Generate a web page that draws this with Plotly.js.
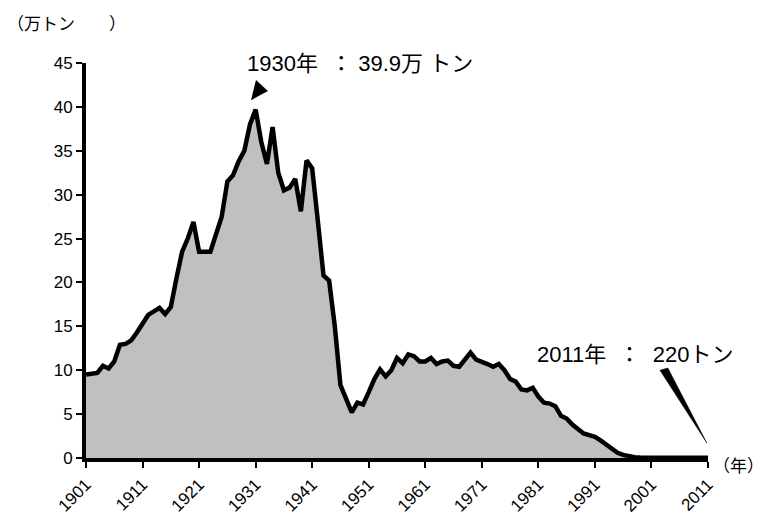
<!DOCTYPE html>
<html><head><meta charset="utf-8">
<script src="https://cdn.plot.ly/plotly-3.0.1.min.js"></script>
<style>html,body{margin:0;padding:0;background:#fff}#chart{width:769px;height:519px}</style>
</head><body><div id="chart"></div>
<script>
const years = Array.from({length: 111}, (_, i) => 1901 + i);
const production = [
  9.5, 9.6, 9.7, 10.5, 10.2, 11.0, 12.9, 13.0, 13.4, 14.3,
  15.3, 16.3, 16.7, 17.1, 16.4, 17.2, 20.5, 23.5, 25.0, 26.9,
  23.5, 23.5, 23.5, 25.5, 27.5, 31.5, 32.2, 33.8, 35.0, 38.0,
  39.7, 36.0, 33.5, 37.7, 32.5, 30.5, 30.8, 31.8, 28.1, 33.9,
  33.0, 27.0, 20.8, 20.2, 15.0, 8.3, 6.8, 5.2, 6.3, 6.1,
  7.5, 9.0, 10.1, 9.3, 10.0, 11.4, 10.8, 11.8, 11.6, 11.0,
  11.0, 11.4, 10.7, 11.0, 11.1, 10.5, 10.4, 11.3, 12.0, 11.2,
  11.0, 10.7, 10.4, 10.7, 10.0, 9.0, 8.7, 7.8, 7.7, 8.0,
  7.0, 6.3, 6.2, 5.9, 4.8, 4.5, 3.8, 3.3, 2.8, 2.6,
  2.4, 2.0, 1.5, 1.0, 0.6, 0.35, 0.2, 0.1, 0.05, 0.04,
  0.03, 0.03, 0.03, 0.03, 0.03, 0.02, 0.02, 0.02, 0.02, 0.02,
  0.022
];
const xTicks = [1901, 1911, 1921, 1931, 1941, 1951, 1961, 1971, 1981, 1991, 2001, 2011];
const yTicks = [0, 5, 10, 15, 20, 25, 30, 35, 40, 45];
const peakLabel = '1930年\u00a0\u00a0：\u00a039.9万\u00a0トン';
const lastLabel = '2011年\u00a0\u00a0：\u00a0\u00a0220トン';
const yUnit = '（万トン\u3000\u3000）';
const xUnit = '（年）';

const latin = 'Liberation Sans, Arial, sans-serif';
const mixed = 'Liberation Sans, Noto Sans CJK JP, sans-serif';

Plotly.newPlot('chart', [{
  x: years, y: production, type: 'scatter', mode: 'lines',
  fill: 'tozeroy', fillcolor: '#c0c0c0',
  line: {color: '#000', width: 4.5}, hoverinfo: 'skip'
}], {
  width: 769, height: 519,
  margin: {l: 86, r: 61, t: 63, b: 61},
  paper_bgcolor: '#fff', plot_bgcolor: '#fff',
  showlegend: false,
  font: {family: mixed, size: 17, color: '#000'},
  xaxis: {
    range: [1901, 2011], tickvals: xTicks, ticktext: xTicks.map(String),
    tickangle: -45, ticks: 'outside', ticklen: 6, tickwidth: 2, tickcolor: '#000',
    showline: true, linecolor: '#000', linewidth: 4, showgrid: false, zeroline: false,
    tickfont: {family: latin, size: 17, color: '#000'}
  },
  yaxis: {
    range: [0, 45], tickvals: yTicks,
    ticks: 'outside', ticklen: 6, tickwidth: 2, tickcolor: '#000',
    showline: true, linecolor: '#000', linewidth: 4, showgrid: false, zeroline: false,
    tickfont: {family: latin, size: 17, color: '#000'}
  },
  shapes: [
    {type: 'path', xref: 'x', yref: 'y', path: 'M 1931.06,43.05 L 1933.18,41.8 L 1930.18,40.77 Z',
     fillcolor: '#000', line: {width: 0}},
    {type: 'path', xref: 'x', yref: 'y', path: 'M 2002.5,10.0 L 2003.9,10.25 L 2010.8,1.7 Z',
     fillcolor: '#000', line: {color: '#000', width: 0.5}}
  ],
  annotations: [
    {x: 0, y: 1, xref: 'paper', yref: 'paper', xanchor: 'left', yanchor: 'middle',
     xshift: -81, yshift: 39, text: yUnit, showarrow: false,
     font: {family: mixed, size: 17, color: '#000'}},
    {x: 1, y: 0, xref: 'paper', yref: 'paper', xanchor: 'left', yanchor: 'middle',
     xshift: 3, yshift: -8, text: xUnit, showarrow: false,
     font: {family: mixed, size: 17, color: '#000'}},
    {x: 0.2556, y: 1, xref: 'paper', yref: 'paper', xanchor: 'left', yanchor: 'middle',
     text: peakLabel, showarrow: false,
     font: {family: mixed, size: 22, color: '#000'}},
    {x: 0.722, y: 0.261, xref: 'paper', yref: 'paper', xanchor: 'left', yanchor: 'middle',
     text: lastLabel, showarrow: false,
     font: {family: mixed, size: 22, color: '#000'}}
  ]
}, {displayModeBar: false, staticPlot: true});
</script></body></html>
